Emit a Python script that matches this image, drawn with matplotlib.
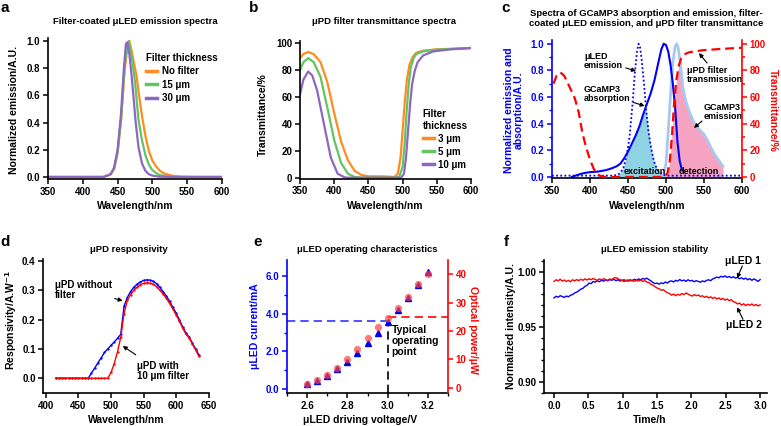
import numpy as np
import matplotlib
matplotlib.use("Agg")
import matplotlib.pyplot as plt
from matplotlib.ticker import FormatStrFormatter, MultipleLocator

plt.rcParams['font.family'] = ['Liberation Sans', 'DejaVu Sans']
plt.rcParams['font.weight'] = 'bold'
plt.rcParams['axes.labelweight'] = 'bold'

# ---------------- data ----------------
# (a) filter-coated uLED emission spectra
a_nofilter_x = [350, 400, 430, 440, 445, 450, 455, 460, 464, 467, 470, 473, 477, 480, 485, 490, 495, 500, 505, 510, 515, 520, 530, 540, 560, 600]
a_nofilter_y = [0, 0, 0.0, 0.02, 0.06, 0.18, 0.42, 0.78, 0.95, 1.0, 0.93, 0.85, 0.75, 0.63, 0.45, 0.3, 0.19, 0.12, 0.08, 0.05, 0.03, 0.02, 0.008, 0.003, 0, 0]
a_15_x = [350, 400, 430, 440, 445, 450, 455, 460, 463, 466, 469, 472, 475, 480, 485, 490, 495, 500, 505, 510, 520, 540, 600]
a_15_y = [0, 0, 0.0, 0.02, 0.06, 0.18, 0.43, 0.8, 0.95, 1.0, 0.92, 0.82, 0.7, 0.42, 0.27, 0.16, 0.09, 0.05, 0.03, 0.015, 0.005, 0, 0]
a_30_x = [350, 400, 430, 440, 445, 450, 455, 459, 462, 464, 467, 470, 473, 476, 480, 485, 490, 495, 500, 510, 530, 600]
a_30_y = [0, 0, 0.0, 0.02, 0.07, 0.2, 0.47, 0.8, 0.98, 0.99, 0.9, 0.75, 0.58, 0.4, 0.22, 0.1, 0.045, 0.02, 0.01, 0.002, 0, 0]

# (b) uPD filter transmittance spectra (%)
b_3_x = [350, 355, 362, 370, 380, 390, 400, 410, 420, 430, 440, 450, 460, 470, 480, 488, 493, 497, 500, 503, 506, 510, 515, 520, 530, 550, 575, 600]
b_3_y = [89, 92, 93.5, 92, 86, 71, 48, 27, 13, 5, 2, 1, 1, 1, 0.8, 0.5, 3, 15, 35, 55, 72, 84, 90, 93, 94.5, 95.5, 96, 96.5]
b_5_x = [350, 355, 362, 370, 380, 390, 400, 410, 420, 430, 440, 490, 495, 500, 503, 506, 509, 512, 516, 520, 530, 550, 600]
b_5_y = [80, 86, 89, 86, 75, 52, 28, 11, 3, 0.5, 0, 0, 0.5, 8, 25, 50, 70, 82, 89, 92, 94, 95.3, 96.5]
b_10_x = [350, 355, 362, 368, 375, 385, 395, 405, 415, 420, 498, 502, 505, 508, 511, 514, 518, 522, 530, 545, 570, 600]
b_10_y = [62, 73, 79, 76, 65, 40, 15, 3, 0.3, 0, 0, 3, 15, 35, 55, 70, 80, 86, 91, 94, 95.5, 96.5]

# (c) spectra
c_abs_x = [376, 380, 385, 390, 395, 400, 405, 410, 415, 420, 425, 430, 435, 440, 445, 450, 455, 460, 465, 470, 475, 480, 485, 490, 494, 497, 500, 503, 506, 509, 512, 515, 518, 521]
c_abs_y = [0.0, 0.008, 0.018, 0.026, 0.032, 0.036, 0.038, 0.04, 0.045, 0.05, 0.058, 0.068, 0.08, 0.1, 0.14, 0.19, 0.25, 0.31, 0.38, 0.47, 0.55, 0.63, 0.73, 0.86, 0.96, 1.0, 0.99, 0.94, 0.84, 0.7, 0.52, 0.27, 0.12, 0.05]
c_led_x = [350, 380, 410, 430, 436, 440, 444, 448, 452, 456, 459, 462, 464, 466, 468, 471, 474, 477, 480, 484, 488, 492, 497, 502, 530, 560, 600]
c_led_y = [0.01, 0.01, 0.01, 0.01, 0.015, 0.03, 0.07, 0.15, 0.3, 0.55, 0.78, 0.95, 1.0, 0.97, 0.88, 0.7, 0.5, 0.34, 0.23, 0.12, 0.06, 0.03, 0.015, 0.01, 0.01, 0.01, 0.01]
c_em_x = [496, 500, 503, 506, 509, 512, 514, 516, 519, 522, 526, 530, 535, 540, 545, 550, 555, 560, 565, 570, 575]
c_em_y = [0.0, 0.1, 0.35, 0.62, 0.86, 0.98, 1.0, 0.97, 0.85, 0.68, 0.57, 0.5, 0.43, 0.38, 0.35, 0.32, 0.27, 0.21, 0.16, 0.12, 0.08]
c_tr_x = [352, 356, 361, 366, 372, 380, 385, 390, 395, 400, 405, 410, 415, 420, 498, 502, 505, 508, 511, 514, 517, 520, 524, 530, 540, 550, 570, 600]
c_tr_y = [70, 76, 78.5, 76, 69, 59, 49, 33, 22, 13, 6, 2, 0.5, 0, 0, 3, 12, 32, 58, 74, 84, 89, 92, 93.5, 94.5, 95.2, 96, 97]

# (d) uPD responsivity
d_x = [415, 420, 425, 430, 435, 440, 445, 450, 455, 460, 465, 470, 475, 480, 485, 490, 495, 500, 505, 510, 515, 520, 525, 530, 535, 540, 545, 550, 555, 560, 565, 570, 575, 580, 585, 590, 595, 600, 605, 610, 615, 620, 625, 630, 635]
d_nofilter = [0, 0, 0, 0, 0, 0, 0, 0, 0, 0, 0, 0.018, 0.035, 0.053, 0.07, 0.088, 0.10, 0.112, 0.124, 0.136, 0.15, 0.245, 0.275, 0.295, 0.31, 0.32, 0.328, 0.333, 0.335, 0.334, 0.33, 0.322, 0.31, 0.295, 0.28, 0.262, 0.242, 0.222, 0.2, 0.175, 0.155, 0.14, 0.12, 0.1, 0.08]
d_filter = [0, 0, 0, 0, 0, 0, 0, 0, 0, 0, 0, 0, 0, 0, 0, 0, 0, 0.02, 0.05, 0.09, 0.14, 0.22, 0.265, 0.285, 0.3, 0.31, 0.318, 0.323, 0.325, 0.324, 0.32, 0.312, 0.3, 0.287, 0.272, 0.255, 0.236, 0.216, 0.195, 0.171, 0.151, 0.137, 0.117, 0.097, 0.075]

# (e) uLED operating characteristics
e_voltage = [2.6, 2.65, 2.7, 2.75, 2.8, 2.85, 2.9, 2.95, 3.0, 3.05, 3.1, 3.15, 3.2]
e_current = [0.25, 0.42, 0.71, 1.04, 1.41, 1.89, 2.42, 3.0, 3.57, 4.2, 4.85, 5.52, 6.22]
e_power = [1.4, 2.7, 4.5, 6.8, 10.0, 13.5, 17.6, 21.2, 24.5, 28.2, 32.1, 36.5, 40.0]
e_op_current = 3.6
e_op_power = 24.8
e_op_voltage = 3.0

# (f) emission stability (sampled every 0.03 h from 0 to 3 h)
f_led1 = [0.9765, 0.9780, 0.9772, 0.9785, 0.9778, 0.9770, 0.9782, 0.9775, 0.9790, 0.9795,
          0.9810, 0.9818, 0.9830, 0.9845, 0.9852, 0.9870, 0.9880, 0.9900, 0.9895, 0.9915,
          0.9908, 0.9922, 0.9912, 0.9925, 0.9918, 0.9930, 0.9920, 0.9932, 0.9925, 0.9935,
          0.9922, 0.9930, 0.9918, 0.9928, 0.9915, 0.9925, 0.9918, 0.9930, 0.9920, 0.9935,
          0.9925, 0.9938, 0.9930, 0.9942, 0.9935, 0.9945, 0.9932, 0.9920, 0.9905, 0.9895,
          0.9900, 0.9890, 0.9902, 0.9895, 0.9910, 0.9900, 0.9915, 0.9920, 0.9910, 0.9925,
          0.9918, 0.9932, 0.9920, 0.9928, 0.9915, 0.9930, 0.9920, 0.9925, 0.9912, 0.9922,
          0.9915, 0.9908, 0.9920, 0.9912, 0.9925, 0.9930, 0.9922, 0.9938, 0.9945, 0.9955,
          0.9948, 0.9962, 0.9955, 0.9965, 0.9952, 0.9960, 0.9948, 0.9958, 0.9945, 0.9952,
          0.9940, 0.9948, 0.9935, 0.9945, 0.9930, 0.9940, 0.9925, 0.9938, 0.9928, 0.9915,
          0.9932]
f_led2 = [0.9915, 0.9930, 0.9920, 0.9935, 0.9918, 0.9928, 0.9915, 0.9925, 0.9912, 0.9930,
          0.9920, 0.9932, 0.9922, 0.9935, 0.9925, 0.9938, 0.9928, 0.9940, 0.9930, 0.9942,
          0.9932, 0.9925, 0.9938, 0.9928, 0.9940, 0.9932, 0.9925, 0.9938, 0.9930, 0.9945,
          0.9950, 0.9940, 0.9930, 0.9922, 0.9932, 0.9920, 0.9930, 0.9918, 0.9928, 0.9915,
          0.9925, 0.9918, 0.9928, 0.9915, 0.9922, 0.9910, 0.9905, 0.9890, 0.9880, 0.9868,
          0.9855, 0.9848, 0.9835, 0.9840, 0.9825, 0.9812, 0.9805, 0.9790, 0.9800, 0.9785,
          0.9798, 0.9790, 0.9805, 0.9795, 0.9810, 0.9800, 0.9790, 0.9782, 0.9795, 0.9785,
          0.9792, 0.9778, 0.9785, 0.9770, 0.9780, 0.9765, 0.9775, 0.9760, 0.9770, 0.9755,
          0.9765, 0.9750, 0.9760, 0.9745, 0.9755, 0.9740, 0.9750, 0.9730, 0.9725, 0.9710,
          0.9718, 0.9700, 0.9712, 0.9695, 0.9708, 0.9698, 0.9710, 0.9695, 0.9705, 0.9692,
          0.9702]
f_time = np.linspace(0, 3.0, len(f_led1))

# ---------------- figure ----------------
W, H = 781, 426
fig = plt.figure(figsize=(W / 100, H / 100), dpi=100)

def add_ax(l, t, r, b):
    return fig.add_axes([l / W, 1 - b / H, (r - l) / W, (b - t) / H])

def ftext(x, y, s, **kw):
    kw.setdefault('ha', 'center')
    kw.setdefault('va', 'center')
    kw.setdefault('fontweight', 'bold')
    return fig.text(x / W, 1 - y / H, s, **kw)

TICK = 7
LAB = 7.5
TIT = 6.8

def style(ax, right=False):
    for s in ['top', 'right']:
        ax.spines[s].set_visible(False)
    for s in ['left', 'bottom']:
        ax.spines[s].set_linewidth(1.2)
    ax.tick_params(direction='out', length=3.5, width=1.1, labelsize=TICK, pad=2)
    ax.tick_params(which='minor', direction='out', length=2.2, width=1.0)
    for lab in ax.get_xticklabels() + ax.get_yticklabels():
        lab.set_fontweight('bold')

orange = '#FF8C1F'
green = '#62C462'
purple = '#8C68C0'

# ----- (a)
ax = add_ax(48, 38.3, 222, 179)
ax.plot(a_nofilter_x, a_nofilter_y, color=orange, lw=1.6, label='No filter')
ax.plot(a_15_x, a_15_y, color=green, lw=1.6, label='15 μm')
ax.plot(a_30_x, a_30_y, color=purple, lw=1.6, label='30 μm')
ax.set_xlim(350, 600)
ax.set_ylim(-0.015, 1.02)
ax.set_xticks([350, 400, 450, 500, 550, 600])
ax.set_yticks([0, 0.2, 0.4, 0.6, 0.8, 1.0])
ax.yaxis.set_major_formatter(FormatStrFormatter('%.1f'))
style(ax)
leg = ax.legend(loc='upper left', bbox_to_anchor=(0.535, 0.93), frameon=False,
                title='Filter thickness', fontsize=7, title_fontsize=7,
                handlelength=1.1, handletextpad=0.5, borderpad=0, labelspacing=0.35)
leg._legend_box.align = 'left'
leg.get_title().set_fontweight('bold')
for line in leg.get_lines():
    line.set_linewidth(2.5)
ftext(135, 22, 'Filter-coated μLED emission spectra', fontsize=TIT)
ftext(14, 110, 'Normalized emission/A.U.', fontsize=LAB, rotation=90)
ftext(135, 206, 'Wavelength/nm', fontsize=LAB)
ftext(5, 8, 'a', fontsize=11)

# ----- (b)
ax = add_ax(300, 41.3, 471, 178.5)
ax.plot(b_3_x, b_3_y, color=orange, lw=1.6, label='3 μm')
ax.plot(b_5_x, b_5_y, color=green, lw=1.6, label='5 μm')
ax.plot(b_10_x, b_10_y, color=purple, lw=1.6, label='10 μm')
ax.set_xlim(350, 600)
ax.set_ylim(-0.6, 101.5)
ax.set_xticks([350, 400, 450, 500, 550, 600])
ax.set_yticks([0, 20, 40, 60, 80, 100])
style(ax)
leg = ax.legend(loc='upper left', bbox_to_anchor=(0.69, 0.54), frameon=False,
                title='Filter\nthickness', fontsize=7, title_fontsize=7,
                handlelength=1.1, handletextpad=0.5, borderpad=0, labelspacing=0.3)
leg._legend_box.align = 'left'
leg.get_title().set_fontweight('bold')
for line in leg.get_lines():
    line.set_linewidth(2.5)
ftext(384, 22, 'μPD filter transmittance spectra', fontsize=TIT)
ftext(263, 115, 'Transmittance/%', fontsize=LAB, rotation=90)
ftext(385, 206, 'Wavelength/nm', fontsize=LAB)
ftext(254, 8, 'b', fontsize=11)

# ----- (c)
ax = add_ax(552, 40, 742, 178.3)
ax2 = ax.twinx()
grid = np.union1d(np.union1d(c_led_x, c_abs_x), np.union1d(c_em_x, c_tr_x))
led_g = np.interp(grid, c_led_x, c_led_y)
abs_g = np.interp(grid, c_abs_x, c_abs_y, left=0, right=0)
em_g = np.interp(grid, c_em_x, c_em_y, left=0, right=0)
tr_g = np.interp(grid, c_tr_x, c_tr_y) / 100.0
exc = np.minimum(led_g, abs_g)
det = np.minimum(em_g, tr_g)
ax.fill_between(grid, 0, exc, where=(grid >= 436) & (grid <= 500), color='#8FD3E2', lw=0)
ax.fill_between(grid, 0, det, where=(grid >= 496) & (grid <= 575), color='#F6A3C1', lw=0)
ax.plot(c_em_x, c_em_y, color='#A8C8F2', lw=2.0)
ax.plot(c_led_x, c_led_y, color='#0000FF', lw=1.3, ls=(0, (1, 1.3)))
ax.plot(c_abs_x, c_abs_y, color='#0000FF', lw=1.5)
ax2.plot(c_tr_x, c_tr_y, color='#FF0000', lw=1.6, ls=(0, (4, 2.2)))
ax.set_xlim(350, 600)
ax.set_ylim(-0.01, 1.028)
ax2.set_ylim(-1, 102.8)
ax.set_xticks([350, 400, 450, 500, 550, 600])
ax.set_yticks([0, 0.2, 0.4, 0.6, 0.8, 1.0])
ax.yaxis.set_major_formatter(FormatStrFormatter('%.1f'))
ax.yaxis.set_minor_locator(MultipleLocator(0.1))
ax2.set_yticks([0, 20, 40, 60, 80, 100])
ax2.yaxis.set_minor_locator(MultipleLocator(10))
style(ax)
for s in ['top', 'left', 'bottom']:
    ax2.spines[s].set_visible(False)
ax2.spines['right'].set_linewidth(1.2)
ax2.spines['right'].set_color('#FF0000')
ax.spines['left'].set_color('#0000FF')
ax.tick_params(axis='y', which='both', colors='#0000FF')
ax2.tick_params(axis='y', which='both', direction='out', colors='#FF0000', labelsize=TICK, pad=2, width=1.1)
ax2.tick_params(axis='y', which='major', length=3.5)
ax2.tick_params(axis='y', which='minor', length=2.2)
for lab in ax2.get_yticklabels():
    lab.set_fontweight('bold')
ap = dict(arrowstyle='-|>', color='black', lw=0.8, mutation_scale=6, shrinkA=0, shrinkB=0)
afs = 6.5
ax.annotate('μLED\nemission', xy=(460.5, 0.795), xytext=(392, 0.87), fontsize=afs,
            fontweight='bold', ha='left', va='center', arrowprops=ap, linespacing=1.0)
ax.annotate('GCaMP3\nabsorption', xy=(472, 0.533), xytext=(392, 0.62), fontsize=afs,
            fontweight='bold', ha='left', va='center', arrowprops=ap, linespacing=1.0)
ax.annotate('', xy=(543.4, 0.93), xytext=(554, 0.855), arrowprops=ap)
ax.text(527.6, 0.765, 'μPD filter\ntransmission', fontsize=afs, fontweight='bold',
        ha='left', va='center', linespacing=1.0)
ax.annotate('', xy=(536.8, 0.368), xytext=(547.4, 0.42), arrowprops=ap)
ax.text(549, 0.484, 'GCaMP3\nemission', fontsize=afs, fontweight='bold',
        ha='left', va='center', linespacing=1.0)
ax.text(472, 0.04, 'excitation', fontsize=afs, fontweight='bold', ha='center', va='center')
ax.text(543.4, 0.04, 'detection', fontsize=afs, fontweight='bold', ha='center', va='center')
ftext(646, 18.5, 'Spectra of GCaMP3 absorption and emission, filter-\ncoated μLED emission, and μPD filter transmittance',
      fontsize=TIT, linespacing=1.05)
ftext(514, 110, 'Normalized emission and\nabsorption/A.U.', fontsize=LAB, rotation=90,
      color='#0000FF', linespacing=1.05)
ftext(773, 110, 'Transmittance/%', fontsize=LAB, rotation=270, color='#FF0000')
ftext(647, 206, 'Wavelength/nm', fontsize=LAB)
ftext(506, 8, 'c', fontsize=11)

# ----- (d)
ax = add_ax(43.3, 259.3, 209.3, 393)
ax.plot(d_x, d_nofilter, color='#0000FF', lw=1.0, marker='.', ms=1.3)
ax.plot(d_x, d_filter, color='#FF0000', lw=1.0, marker='.', ms=1.3)
ax.set_xlim(396, 651)
ax.set_ylim(-0.05, 0.405)
ax.set_xticks([400, 450, 500, 550, 600, 650])
ax.set_yticks([0, 0.1, 0.2, 0.3, 0.4])
ax.yaxis.set_major_formatter(FormatStrFormatter('%.1f'))
style(ax)
ax.annotate('μPD without\nfilter', xy=(518, 0.264), xytext=(413.8, 0.30), fontsize=7,
            fontweight='bold', ha='left', va='center', arrowprops=ap, linespacing=1.0)
ax.annotate('', xy=(518, 0.11), xytext=(538, 0.08), arrowprops=ap)
ax.text(539.6, 0.025, 'μPD with\n10 μm filter', fontsize=7, fontweight='bold',
        ha='left', va='center', linespacing=1.0)
ftext(129, 249, 'μPD responsivity', fontsize=TIT)
ftext(11, 320, 'Responsivity/A.W$^{\\mathbf{-1}}$', fontsize=LAB, rotation=90)
ftext(126, 420, 'Wavelength/nm', fontsize=LAB)
ftext(5, 242, 'd', fontsize=11)

# ----- (e)
ax = add_ax(287, 260, 448, 393)
ax2 = ax.twinx()
ax.plot([2.5, e_op_voltage], [e_op_current, e_op_current], color='#3333FF', lw=1.2, ls=(0, (5, 3)))
ax.plot([e_op_voltage, e_op_voltage], [-0.21, e_op_current], color='black', lw=1.2, ls=(0, (5, 3)))
ax2.plot([e_op_voltage, 3.3], [e_op_power, e_op_power], color='#FF0000', lw=1.2, ls=(0, (5, 3)))
ax.plot(e_voltage, e_current, ls='none', marker='^', ms=4.2, color='#0000EE')
ax2.plot(e_voltage, e_power, ls='none', marker='o', ms=5.2, color='#FF4040', alpha=0.7, mew=0)
ax.set_xlim(2.5, 3.3)
ax.set_ylim(-0.21, 6.85)
ax2.set_ylim(-1.9, 45)
ax.set_xticks([2.6, 2.8, 3.0, 3.2])
ax.xaxis.set_minor_locator(MultipleLocator(0.1))
ax.set_yticks([0, 2, 4, 6])
ax.yaxis.set_minor_locator(MultipleLocator(1))
ax.xaxis.set_major_formatter(FormatStrFormatter('%.1f'))
ax.yaxis.set_major_formatter(FormatStrFormatter('%.1f'))
ax2.set_yticks([0, 10, 20, 30, 40])
style(ax)
ax.spines['left'].set_color('#0000FF')
ax.tick_params(axis='y', which='both', colors='#0000FF')
for s in ['top', 'left', 'bottom']:
    ax2.spines[s].set_visible(False)
ax2.spines['right'].set_linewidth(1.2)
ax2.spines['right'].set_color('#FF0000')
ax2.tick_params(axis='y', direction='out', colors='#FF0000', labelsize=TICK, pad=2, width=1.1, length=3.5)
for lab in ax2.get_yticklabels():
    lab.set_fontweight('bold')
ax.text(3.02, 2.55, 'Typical\noperating\npoint', fontsize=7.5, fontweight='bold',
        ha='left', va='center', linespacing=1.1)
ftext(367, 249, 'μLED operating characteristics', fontsize=TIT)
ftext(255, 326, 'μLED current/mA', fontsize=LAB, rotation=90, color='#0000FF')
ftext(473, 330, 'Optical power/μW', fontsize=LAB, rotation=270, color='#FF0000')
ftext(360, 420, 'μLED driving voltage/V', fontsize=LAB)
ftext(258, 242, 'e', fontsize=11)

# ----- (f)
ax = add_ax(544, 260, 767, 393)
ax.plot(f_time, f_led1, color='#0000FF', lw=1.0)
ax.plot(f_time, f_led2, color='#FF0000', lw=1.0)
ax.set_xlim(-0.146, 3.1)
ax.set_ylim(0.89, 1.011)
ax.set_xticks([0, 0.5, 1.0, 1.5, 2.0, 2.5, 3.0])
ax.xaxis.set_major_formatter(FormatStrFormatter('%.1f'))
ax.set_yticks([0.90, 0.95, 1.00])
ax.yaxis.set_minor_locator(MultipleLocator(0.01))
ax.yaxis.set_major_formatter(FormatStrFormatter('%.2f'))
style(ax)
ax.annotate('', xy=(2.665, 0.9945), xytext=(2.74, 1.0055), arrowprops=ap)
ax.text(2.49, 1.0105, 'μLED 1', fontsize=7.5, fontweight='bold', ha='left', va='center')
ax.annotate('', xy=(2.665, 0.968), xytext=(2.75, 0.957), arrowprops=ap)
ax.text(2.505, 0.952, 'μLED 2', fontsize=7.5, fontweight='bold', ha='left', va='center')
ftext(655, 249, 'μLED emission stability', fontsize=TIT)
ftext(511, 326, 'Normalized intensity/A.U.', fontsize=LAB, rotation=90)
ftext(650, 420, 'Time/h', fontsize=LAB)
ftext(506, 242, 'f', fontsize=11)

fig.savefig('out.png', dpi=100)
